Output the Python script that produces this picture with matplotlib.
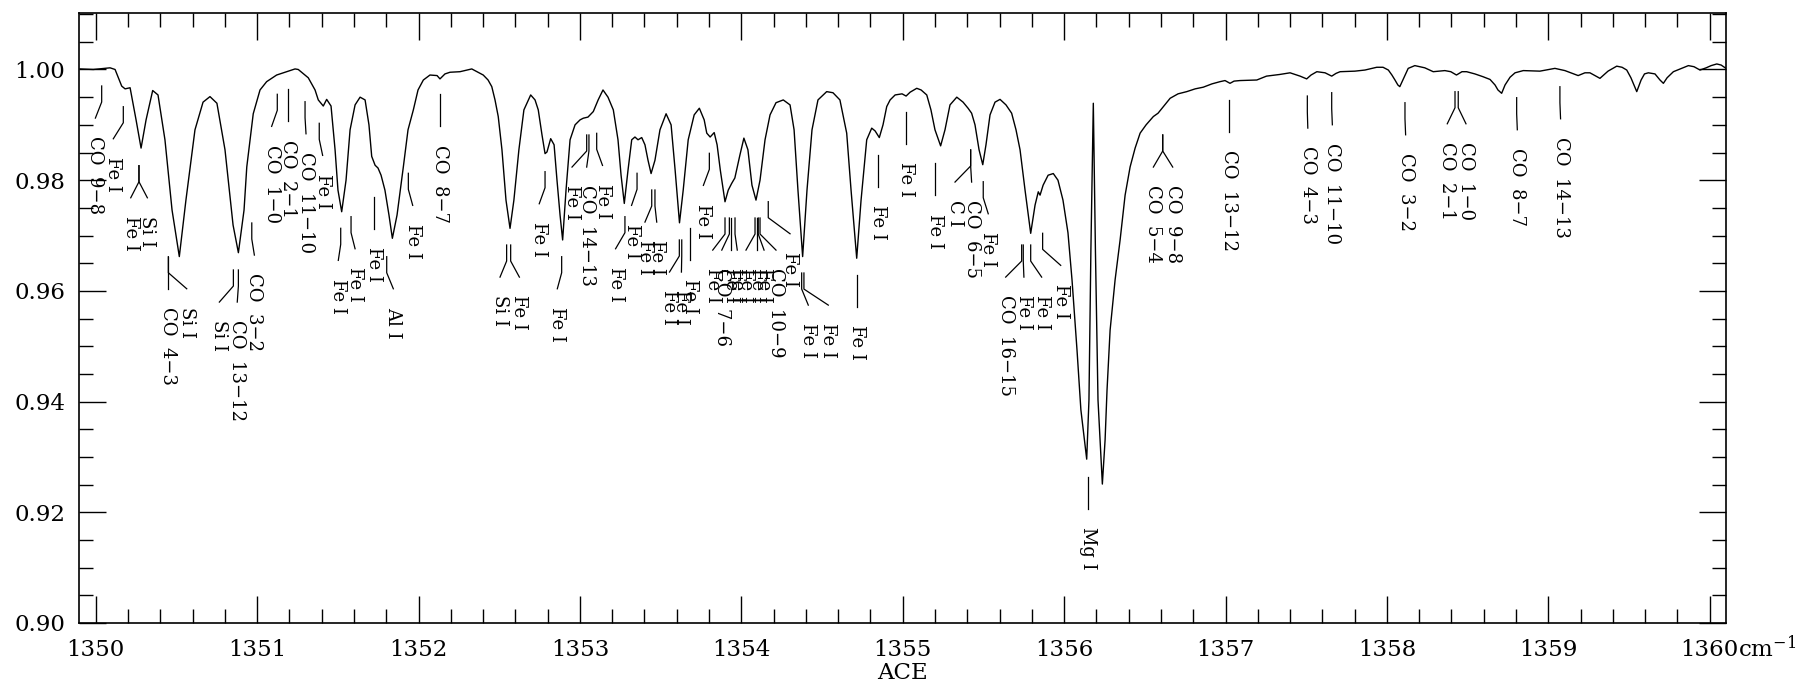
import matplotlib
matplotlib.use('Agg')
import matplotlib.pyplot as plt
from matplotlib.ticker import MultipleLocator

# spectrum (wavenumber in cm-1, normalised flux)
wavenumber = [
    1349.903, 1349.985, 1350.089, 1350.120, 1350.161, 1350.182, 1350.213, 1350.250, 1350.281, 1350.312,
    1350.353, 1350.386, 1350.429, 1350.473, 1350.518, 1350.559, 1350.615, 1350.665, 1350.708, 1350.751,
    1350.801, 1350.851, 1350.884, 1350.919, 1350.936, 1350.976, 1351.018, 1351.059, 1351.121, 1351.183,
    1351.235, 1351.255, 1351.317, 1351.359, 1351.379, 1351.410, 1351.431, 1351.458, 1351.483, 1351.501,
    1351.524, 1351.551, 1351.576, 1351.607, 1351.638, 1351.669, 1351.693, 1351.710, 1351.731, 1351.749,
    1351.768, 1351.792, 1351.817, 1351.838, 1351.867, 1351.906, 1351.935, 1351.968, 1351.997, 1352.030,
    1352.071, 1352.115, 1352.133, 1352.164, 1352.195, 1352.257, 1352.330, 1352.401, 1352.431, 1352.454,
    1352.474, 1352.494, 1352.517, 1352.542, 1352.567, 1352.591, 1352.622, 1352.653, 1352.695, 1352.722,
    1352.742, 1352.765, 1352.784, 1352.796, 1352.819, 1352.840, 1352.858, 1352.877, 1352.893, 1352.914,
    1352.939, 1352.970, 1353.001, 1353.021, 1353.050, 1353.083, 1353.113, 1353.143, 1353.174, 1353.207,
    1353.236, 1353.255, 1353.275, 1353.298, 1353.321, 1353.341, 1353.360, 1353.383, 1353.403, 1353.422,
    1353.441, 1353.465, 1353.496, 1353.534, 1353.565, 1353.590, 1353.617, 1353.640, 1353.671, 1353.708,
    1353.740, 1353.770, 1353.786, 1353.807, 1353.832, 1353.850, 1353.870, 1353.899, 1353.919, 1353.940,
    1353.960, 1353.991, 1354.016, 1354.041, 1354.066, 1354.091, 1354.116, 1354.147, 1354.178, 1354.215,
    1354.260, 1354.302, 1354.327, 1354.351, 1354.380, 1354.407, 1354.438, 1354.475, 1354.529, 1354.568,
    1354.611, 1354.653, 1354.680, 1354.715, 1354.742, 1354.777, 1354.808, 1354.829, 1354.855, 1354.878,
    1354.901, 1354.922, 1354.953, 1354.996, 1355.021, 1355.046, 1355.087, 1355.114, 1355.149, 1355.175,
    1355.200, 1355.235, 1355.262, 1355.293, 1355.335, 1355.374, 1355.405, 1355.427, 1355.448, 1355.473,
    1355.496, 1355.516, 1355.541, 1355.572, 1355.603, 1355.640, 1355.675, 1355.702, 1355.727, 1355.758,
    1355.793, 1355.820, 1355.840, 1355.851, 1355.870, 1355.901, 1355.933, 1355.962, 1355.993, 1356.024,
    1356.049, 1356.080, 1356.104, 1356.140, 1356.154, 1356.166, 1356.181, 1356.194, 1356.210, 1356.237,
    1356.254, 1356.266, 1356.285, 1356.316, 1356.347, 1356.378, 1356.409, 1356.440, 1356.471, 1356.508,
    1356.553, 1356.582, 1356.615, 1356.657, 1356.706, 1356.760, 1356.812, 1356.862, 1356.916, 1356.966,
    1356.997, 1357.028, 1357.053, 1357.090, 1357.194, 1357.254, 1357.336, 1357.400, 1357.462, 1357.503,
    1357.530, 1357.566, 1357.617, 1357.658, 1357.685, 1357.710, 1357.802, 1357.864, 1357.937, 1357.976,
    1358.009, 1358.031, 1358.050, 1358.068, 1358.080, 1358.099, 1358.132, 1358.173, 1358.235, 1358.287,
    1358.359, 1358.396, 1358.431, 1358.465, 1358.494, 1358.545, 1358.595, 1358.639, 1358.670, 1358.688,
    1358.711, 1358.732, 1358.763, 1358.794, 1358.845, 1358.948, 1359.041, 1359.103, 1359.185, 1359.227,
    1359.258, 1359.320, 1359.370, 1359.424, 1359.457, 1359.486, 1359.512, 1359.548, 1359.575, 1359.596,
    1359.620, 1359.661, 1359.692, 1359.713, 1359.736, 1359.775, 1359.817, 1359.868, 1359.903, 1359.940,
    1359.978, 1360.009, 1360.044, 1360.071, 1360.101,
]
flux = [
    1.0001, 1.0000, 1.0003, 1.0000, 0.9970, 0.9965, 0.9967, 0.9909, 0.9858, 0.9909,
    0.9962, 0.9954, 0.9873, 0.9746, 0.9662, 0.9764, 0.9891, 0.9941, 0.9951, 0.9939,
    0.9855, 0.9719, 0.9669, 0.9746, 0.9824, 0.9920, 0.9963, 0.9978, 0.9990, 0.9996,
    1.0001, 1.0000, 0.9985, 0.9963, 0.9945, 0.9934, 0.9946, 0.9934, 0.9855, 0.9782,
    0.9743, 0.9800, 0.9891, 0.9936, 0.9950, 0.9945, 0.9900, 0.9843, 0.9827, 0.9822,
    0.9809, 0.9782, 0.9737, 0.9695, 0.9737, 0.9824, 0.9891, 0.9927, 0.9963, 0.9981,
    0.9990, 0.9989, 0.9983, 0.9992, 0.9995, 0.9996, 1.0001, 0.9990, 0.9981, 0.9969,
    0.9945, 0.9915, 0.9855, 0.9764, 0.9713, 0.9764, 0.9855, 0.9927, 0.9954, 0.9945,
    0.9927, 0.9882, 0.9848, 0.9851, 0.9875, 0.9864, 0.9800, 0.9737, 0.9692, 0.9782,
    0.9873, 0.9900, 0.9909, 0.9912, 0.9914, 0.9924, 0.9945, 0.9963, 0.9950, 0.9927,
    0.9873, 0.9809, 0.9758, 0.9818, 0.9873, 0.9878, 0.9873, 0.9877, 0.9864, 0.9836,
    0.9812, 0.9836, 0.9891, 0.9920, 0.9900, 0.9818, 0.9723, 0.9782, 0.9873, 0.9918,
    0.9930, 0.9909, 0.9885, 0.9878, 0.9886, 0.9864, 0.9818, 0.9761, 0.9782, 0.9794,
    0.9804, 0.9845, 0.9876, 0.9855, 0.9791, 0.9764, 0.9800, 0.9873, 0.9918, 0.9940,
    0.9945, 0.9936, 0.9891, 0.9782, 0.9662, 0.9782, 0.9891, 0.9945, 0.9960, 0.9958,
    0.9945, 0.9885, 0.9782, 0.9659, 0.9764, 0.9873, 0.9894, 0.9889, 0.9877, 0.9900,
    0.9933, 0.9945, 0.9954, 0.9956, 0.9952, 0.9959, 0.9966, 0.9963, 0.9954, 0.9927,
    0.9891, 0.9862, 0.9891, 0.9936, 0.9950, 0.9941, 0.9930, 0.9921, 0.9900, 0.9855,
    0.9828, 0.9864, 0.9918, 0.9941, 0.9946, 0.9936, 0.9921, 0.9891, 0.9855, 0.9782,
    0.9704, 0.9755, 0.9779, 0.9773, 0.9791, 0.9809, 0.9812, 0.9800, 0.9764, 0.9705,
    0.9620, 0.9493, 0.9385, 0.9296, 0.9403, 0.9674, 0.9939, 0.9674, 0.9403, 0.9251,
    0.9331, 0.9421, 0.9529, 0.9620, 0.9692, 0.9773, 0.9824, 0.9858, 0.9885, 0.9900,
    0.9915, 0.9921, 0.9933, 0.9948, 0.9956, 0.9960, 0.9965, 0.9968, 0.9974, 0.9978,
    0.9980, 0.9975, 0.9979, 0.9980, 0.9981, 0.9988, 0.9991, 0.9994, 0.9988, 0.9983,
    0.9990, 0.9996, 0.9994, 0.9988, 0.9993, 0.9996, 0.9997, 0.9999, 1.0004, 1.0004,
    0.9999, 0.9990, 0.9981, 0.9972, 0.9969, 0.9981, 1.0002, 1.0007, 1.0003, 0.9996,
    0.9998, 0.9996, 0.9990, 0.9996, 0.9996, 0.9992, 0.9987, 0.9982, 0.9972, 0.9963,
    0.9957, 0.9972, 0.9986, 0.9994, 0.9998, 0.9997, 1.0002, 0.9998, 0.9989, 0.9994,
    0.9994, 0.9984, 0.9997, 1.0006, 1.0004, 0.9999, 0.9985, 0.9960, 0.9981, 0.9992,
    0.9994, 0.9992, 0.9981, 0.9975, 0.9985, 0.9996, 1.0001, 1.0007, 1.0005, 0.9999,
    1.0003, 1.0007, 1.0010, 1.0008, 1.0002,
]

# line identifications: line position, where its label sits, top of its marker, name
line_pos = [
    1350.037, 1350.171, 1350.268, 1350.268, 1350.450, 1350.450, 1350.853, 1350.884, 1350.967, 1351.125,
    1351.193, 1351.297, 1351.385, 1351.518, 1351.582, 1351.724, 1351.803, 1351.937, 1352.133, 1352.546,
    1352.571, 1352.784, 1352.887, 1353.042, 1353.056, 1353.104, 1353.279, 1353.354, 1353.445, 1353.465,
    1353.616, 1353.631, 1353.682, 1353.802, 1353.899, 1353.926, 1353.934, 1353.961, 1354.085, 1354.095,
    1354.105, 1354.116, 1354.167, 1354.374, 1354.388, 1354.715, 1354.849, 1355.020, 1355.200, 1355.421,
    1355.421, 1355.499, 1355.737, 1355.747, 1355.793, 1355.867, 1356.150, 1356.611, 1356.611, 1357.024,
    1357.507, 1357.658, 1358.112, 1358.422, 1358.442, 1358.804, 1359.072,
]
label_pos = [
    1349.998, 1350.109, 1350.217, 1350.320, 1350.450, 1350.564, 1350.766, 1350.877, 1350.983, 1351.090,
    1351.193, 1351.303, 1351.406, 1351.503, 1351.607, 1351.724, 1351.844, 1351.964, 1352.133, 1352.505,
    1352.625, 1352.748, 1352.860, 1352.951, 1353.042, 1353.140, 1353.221, 1353.320, 1353.403, 1353.476,
    1353.555, 1353.629, 1353.682, 1353.765, 1353.823, 1353.879, 1353.934, 1353.975, 1354.029, 1354.095,
    1354.141, 1354.215, 1354.302, 1354.415, 1354.539, 1354.715, 1354.849, 1355.020, 1355.200, 1355.324,
    1355.427, 1355.530, 1355.638, 1355.751, 1355.861, 1355.979, 1356.150, 1356.553, 1356.673, 1357.024,
    1357.510, 1357.662, 1358.116, 1358.374, 1358.490, 1358.808, 1359.076,
]
line_top = [
    0.99702, 0.99328, 0.98262, 0.98262, 0.96618, 0.96618, 0.96378, 0.96378, 0.97227, 0.99552,
    0.99642, 0.99418, 0.99028, 0.97131, 0.97341, 0.97702, 0.96618, 0.98125, 0.99552, 0.96829,
    0.96829, 0.98154, 0.96618, 0.98817, 0.98817, 0.98847, 0.97341, 0.98125, 0.97823, 0.97823,
    0.96920, 0.96920, 0.97131, 0.98486, 0.97317, 0.97317, 0.97317, 0.97317, 0.97317, 0.97317,
    0.97317, 0.97317, 0.97612, 0.96323, 0.96323, 0.96287, 0.98455, 0.99238, 0.98305, 0.98546,
    0.98546, 0.97973, 0.96829, 0.96829, 0.96829, 0.97041, 0.92643, 0.98817, 0.98817, 0.99449,
    0.99521, 0.99581, 0.99400, 0.99599, 0.99599, 0.99491, 0.99689,
]
line_name = [
    'CO  9−8', 'Fe I', 'Fe I', 'Si I', 'CO  4−3', 'Si I', 'Si I', 'CO  13−12', 'CO  3−2', 'CO  1−0',
    'CO  2−1', 'CO  11−10', 'Fe I', 'Fe I', 'Fe I', 'Fe I', 'Al I', 'Fe I', 'CO  8−7', 'Si I',
    'Fe I', 'Fe I', 'Fe I', 'Fe I', 'CO  14−13', 'Fe I', 'Fe I', 'Fe I', 'Fe I', 'Fe I',
    'Fe I', 'Fe I', 'Fe I', 'Fe I', 'Fe I', 'CO  7−6', 'Fe I', 'Fe I', 'Fe I', 'Fe I',
    'Fe I', 'CO  10−9', 'Fe I', 'Fe I', 'Fe I', 'Fe I', 'Fe I', 'Fe I', 'Fe I', 'C I',
    'CO  6−5', 'Fe I', 'CO  16−15', 'Fe I', 'Fe I', 'Fe I', 'Mg I', 'CO  5−4', 'CO  9−8', 'CO  13−12',
    'CO  4−3', 'CO  11−10', 'CO  3−2', 'CO  2−1', 'CO  1−0', 'CO  8−7', 'CO  14−13',
]

STEM = 0.0029   # length of each marker segment, flux units (~16 px)
GAP = 0.0033    # space between marker end and its label

plt.rcParams['mathtext.fontset'] = 'dejavuserif'

fig = plt.figure(figsize=(18.1, 6.87), dpi=100)
ax = fig.add_axes([0.04365, 0.09316, 0.90994, 0.88836])

ax.plot(wavenumber, flux, color='black', lw=1.0)

for x0, x1, yt, name in zip(line_pos, label_pos, line_top, line_name):
    ax.plot([x0, x0, x1], [yt, yt - STEM, yt - 2 * STEM], color='black', lw=0.9)
    ax.text(x1, yt - 2 * STEM - GAP, name, rotation=270, ha='center', va='top',
            fontsize=13, family='DejaVu Serif')

ax.set_xlim(1349.8965, 1360.101)
ax.set_ylim(0.90, 1.01026)

ax.xaxis.set_major_locator(MultipleLocator(1))
ax.xaxis.set_minor_locator(MultipleLocator(0.2))
ax.yaxis.set_major_locator(MultipleLocator(0.02))
ax.yaxis.set_minor_locator(MultipleLocator(0.005))
ax.yaxis.set_major_formatter(plt.FuncFormatter(lambda v, p: f'{v:.2f}'))
ax.tick_params(which='both', direction='in', top=True, right=True, width=1.0, color='black')
ax.tick_params(which='major', length=19.5)
ax.tick_params(which='minor', length=10)
ax.tick_params(axis='x', which='major', pad=11.5)
ax.tick_params(axis='y', which='major', pad=10)
for lab in ax.get_xticklabels() + ax.get_yticklabels():
    lab.set_family('DejaVu Serif')
    lab.set_fontsize(16.5)
for sp in ax.spines.values():
    sp.set_linewidth(1.2)

ax.annotate('cm$^{-1}$', xy=(1360, 0), xycoords=ax.get_xaxis_transform(),
            xytext=(28, -34), textcoords='offset pixels', ha='left', va='baseline',
            fontsize=16.5, family='DejaVu Serif')

ax.set_xlabel('ACE', family='DejaVu Serif', fontsize=16.5, labelpad=1)

fig.savefig('out.png', dpi=100)
